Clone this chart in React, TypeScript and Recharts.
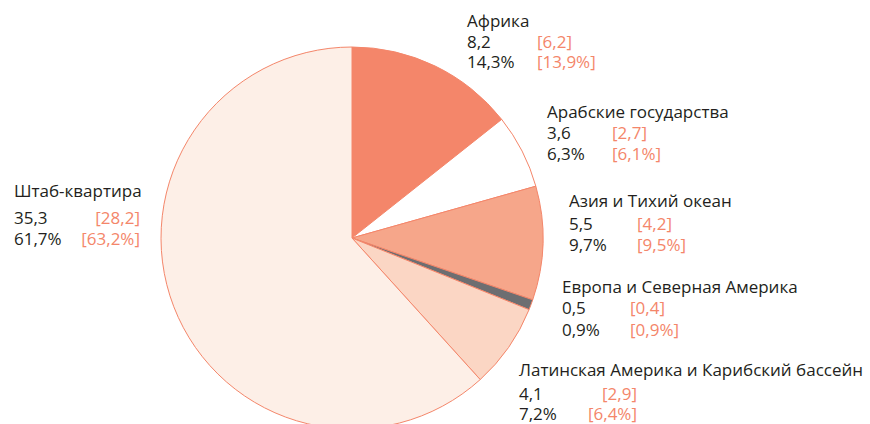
import React from 'react';
import { PieChart, Pie, Cell } from 'recharts';

const categories = [
  'Африка',
  'Арабские государства',
  'Азия и Тихий океан',
  'Европа и Северная Америка',
  'Латинская Америка и Карибский бассейн',
  'Штаб-квартира',
];
const values = [8.2, 3.6, 5.5, 0.5, 4.1, 35.3];
const valueLabels = ['8,2', '3,6', '5,5', '0,5', '4,1', '35,3'];
const percentLabels = ['14,3%', '6,3%', '9,7%', '0,9%', '7,2%', '61,7%'];
const prevValueLabels = ['[6,2]', '[2,7]', '[4,2]', '[0,4]', '[2,9]', '[28,2]'];
const prevPercentLabels = ['[13,9%]', '[6,1%]', '[9,5%]', '[0,9%]', '[6,4%]', '[63,2%]'];

const colors = ['#F4866A', '#FFFFFF', '#F6A68A', '#6D6E71', '#FBD6C4', '#FDEFE7'];

// label layout: x of text, x of bracket, anchor of bracket, baselines
const layout = [
  { x: 467, bx: 537, anchor: 'start', y: [27, 48, 68] },
  { x: 547, bx: 612, anchor: 'start', y: [118, 139, 160] },
  { x: 569, bx: 637, anchor: 'start', y: [207, 230, 251] },
  { x: 562, bx: 630, anchor: 'start', y: [293, 314, 336] },
  { x: 519, bx: 637, anchor: 'end', y: [376, 400, 420] },
  { x: 14, bx: 140, anchor: 'end', y: [197, 224, 245] },
];

const data = categories.map((name, i) => ({ name, value: values[i] }));

const FONT = '"Open Sans", sans-serif';
const DARK = '#231F20';
const ACCENT = '#F4866A';

const renderLabel = (props: any) => {
  const i = props.index;
  const l = layout[i];
  return (
    <g key={`lbl-${i}`} fontFamily={FONT} fontSize={17}>
      <text x={l.x} y={l.y[0]} fill={DARK}>{categories[i]}</text>
      <text x={l.x} y={l.y[1]} fill={DARK}>{valueLabels[i]}</text>
      <text x={l.x} y={l.y[2]} fill={DARK}>{percentLabels[i]}</text>
      <text x={l.bx} y={l.y[1]} fill={ACCENT} textAnchor={l.anchor}>{prevValueLabels[i]}</text>
      <text x={l.bx} y={l.y[2]} fill={ACCENT} textAnchor={l.anchor}>{prevPercentLabels[i]}</text>
    </g>
  );
};

export default function App() {
  return (
    <div style={{ position: 'absolute', left: 0, top: 0, background: '#fff' }}>
      <PieChart width={870} height={424} margin={{ top: 0, right: 0, bottom: 0, left: 0 }}>
        <Pie
          data={data}
          dataKey="value"
          nameKey="name"
          cx={352}
          cy={238}
          outerRadius={191}
          startAngle={90}
          endAngle={-270}
          stroke={ACCENT}
          strokeWidth={1}
          label={renderLabel}
          labelLine={false}
          isAnimationActive={false}
        >
          {data.map((d, i) => (
            <Cell key={d.name} fill={colors[i]} stroke={ACCENT} />
          ))}
        </Pie>
      </PieChart>
    </div>
  );
}
